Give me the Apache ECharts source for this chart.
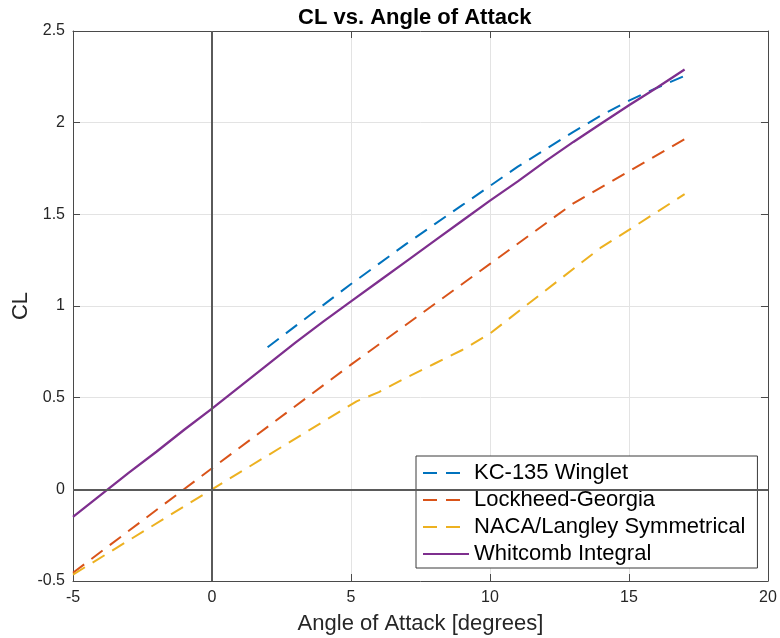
<!DOCTYPE html>
<html>
<head>
<meta charset="utf-8">
<script src="https://cdn.jsdelivr.net/npm/echarts@6/dist/echarts.min.js"></script>
<style>
  html, body { margin: 0; padding: 0; background: #ffffff; }
  #chart { width: 780px; height: 638px; }
</style>
</head>
<body>
<div id="chart"></div>
<script>
// Lift coefficient against angle of attack for four wingtip configurations
const seriesNames = ['KC-135 Winglet', 'Lockheed-Georgia', 'NACA/Langley Symmetrical', 'Whitcomb Integral'];

const kcAngle = [2, 3, 4, 5, 6, 7, 8, 9, 10, 11, 12, 13, 14, 15, 16, 17];
const kcCL    = [0.775, 0.89, 1.005, 1.12, 1.23, 1.34, 1.445, 1.55, 1.655, 1.76, 1.855, 1.95, 2.04, 2.12, 2.19, 2.255];

const lgAngle = [-5, 0, 5, 10, 13, 15, 17];
const lgCL    = [-0.455, 0.115, 0.68, 1.23, 1.56, 1.735, 1.91];

const nacaAngle = [-5, 0, 5.2, 6, 7, 8, 9, 10, 14, 15, 17];
const nacaCL    = [-0.465, 0, 0.48, 0.53, 0.61, 0.685, 0.76, 0.85, 1.32, 1.415, 1.61];

const wiAngle = [-5, -4, -3, -2, -1, 0, 1, 2, 3, 4, 5, 6, 7, 8, 9, 10, 11, 12, 13, 14, 15, 16, 17];
const wiCL    = [-0.15, -0.03, 0.09, 0.205, 0.325, 0.44, 0.56, 0.68, 0.8, 0.915, 1.025, 1.135, 1.245, 1.355, 1.465, 1.575, 1.68, 1.79, 1.895, 1.995, 2.095, 2.19, 2.29];

const xRange = { min: -5, max: 20, step: 5 };
const yRange = { min: -0.5, max: 2.5, step: 0.5 };

const colors = ['#0072BD', '#D95319', '#EDB120', '#7E2F8E'];
const FONT = 'Liberation Sans, Arial, Helvetica, sans-serif';
const INK = '#262626';

function pairs(xs, ys) { return xs.map((x, i) => [x, ys[i]]); }

const chart = echarts.init(document.getElementById('chart'), null, { renderer: 'canvas' });

const dash = [14, 9];

function axisBase(range, extra) {
  return Object.assign({
    type: 'value',
    min: range.min,
    max: range.max,
    interval: range.step,
    axisLine: { show: true, onZero: false, lineStyle: { color: '#4a4a4a', width: 1 } },
    axisTick: { show: true, inside: true, length: 7, lineStyle: { color: '#4a4a4a', width: 1 } },
    splitLine: { show: false },
    axisLabel: { show: false }
  }, extra);
}

const option = {
  backgroundColor: '#ffffff',
  animation: false,
  title: {
    text: 'CL vs. Angle of Attack',
    left: 293,
    top: 2,
    textStyle: { fontFamily: FONT, fontWeight: 'bold', fontSize: 22, color: '#000000' }
  },
  grid: { left: 73, right: 12, top: 31, bottom: 57, outerBoundsMode: 'none', containLabel: false },
  xAxis: [
    axisBase(xRange, {
      position: 'bottom',
      name: 'Angle of Attack [degrees]',
      nameLocation: 'middle',
      nameGap: 32,
      nameTextStyle: { fontFamily: FONT, fontSize: 22, color: INK },
      axisLabel: { show: true, fontFamily: FONT, fontSize: 16, color: INK, margin: 9 },
      splitLine: { show: true, lineStyle: { color: '#e3e3e3', width: 1 } }
    }),
    axisBase(xRange, { position: 'top' })
  ],
  yAxis: [
    axisBase(yRange, {
      position: 'left',
      name: 'CL',
      nameLocation: 'middle',
      nameGap: 41,
      nameMoveOverlap: false,
      nameRotate: 90,
      nameTextStyle: { fontFamily: FONT, fontSize: 22, color: INK },
      axisLabel: { show: true, fontFamily: FONT, fontSize: 16, color: INK, margin: 8 },
      splitLine: { show: true, lineStyle: { color: '#e3e3e3', width: 1 } }
    }),
    axisBase(yRange, { position: 'right' })
  ],
  legend: {
    data: seriesNames,
    orient: 'vertical',
    left: 416,
    top: 456,
    itemWidth: 46,
    itemHeight: 14,
    itemGap: 5,
    padding: [6, 12, 3, 6],
    backgroundColor: '#ffffff',
    borderColor: '#3a3a3a',
    borderWidth: 1,
    borderRadius: 0,
    itemStyle: { opacity: 0 },
    textStyle: { fontFamily: FONT, fontSize: 22, color: '#000000', lineHeight: 22 }
  },
  series: [
    {
      name: seriesNames[0], type: 'line', data: pairs(kcAngle, kcCL),
      symbol: 'none', showSymbol: false, z: 3,
      lineStyle: { color: colors[0], width: 2, type: dash }, itemStyle: { color: colors[0] }
    },
    {
      name: seriesNames[1], type: 'line', data: pairs(lgAngle, lgCL),
      symbol: 'none', showSymbol: false, z: 3,
      lineStyle: { color: colors[1], width: 2, type: dash }, itemStyle: { color: colors[1] }
    },
    {
      name: seriesNames[2], type: 'line', data: pairs(nacaAngle, nacaCL),
      symbol: 'none', showSymbol: false, z: 3,
      lineStyle: { color: colors[2], width: 2, type: dash }, itemStyle: { color: colors[2] }
    },
    {
      name: seriesNames[3], type: 'line', data: pairs(wiAngle, wiCL),
      symbol: 'none', showSymbol: false, z: 3,
      lineStyle: { color: colors[3], width: 2.3, type: 'solid' }, itemStyle: { color: colors[3] }
    },
    {
      // reference lines through the origin
      type: 'line', data: [], silent: true, z: 4,
      markLine: {
        silent: true,
        symbol: 'none',
        label: { show: false },
        lineStyle: { color: '#5a5a5a', width: 2, type: 'solid' },
        data: [{ xAxis: 0 }, { yAxis: 0 }]
      }
    }
  ]
};

chart.setOption(option);
</script>
</body>
</html>
